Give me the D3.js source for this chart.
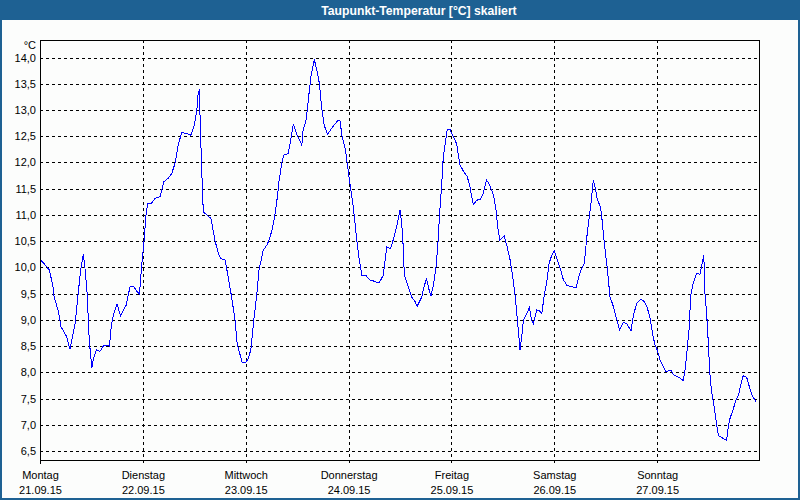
<!DOCTYPE html>
<html><head><meta charset="utf-8">
<script src="https://cdn.jsdelivr.net/npm/d3@7/dist/d3.min.js"></script>
<style>body{margin:0;background:#fcfdfc}svg{display:block}</style>
</head><body>
<script>
const chartTitle = "Taupunkt-Temperatur [°C] skaliert";
const unitLabel = "°C";
const dayNames = ["Montag","Dienstag","Mittwoch","Donnerstag","Freitag","Samstag","Sonntag"];
const dayDates = ["21.09.15","22.09.15","23.09.15","24.09.15","25.09.15","26.09.15","27.09.15"];
const yTicks = [6.5,7,7.5,8,8.5,9,9.5,10,10.5,11,11.5,12,12.5,13,13.5,14];
const dayTicks = [0,24,48,72,96,120,144];
// hours since Monday 21.09.15 00:00
const hours = [0.2,2.2,3.1,3.3,4.3,4.9,6.2,7.0,8.2,8.9,9.5,10.1,10.5,11.0,11.5,12.1,12.4,13.2,14.0,14.9,15.4,16.2,16.7,17.3,18.0,18.8,20.1,21.0,21.9,22.6,23.2,
23.7,24.3,24.7,25.1,25.9,26.8,28.0,28.9,29.9,30.7,31.5,32.3,33.1,34.2,35.2,36.0,36.6,36.9,37.2,37.3,37.7,38.1,38.9,39.9,40.8,41.6,42.2,43.2,43.9,44.7,45.5,46.0,46.7,47.2,48.0,48.6,49.2,49.8,50.6,51.1,
52.1,53.0,53.7,54.3,54.8,55.4,55.8,56.4,56.9,57.9,58.5,59.1,60.0,61.1,61.4,62.1,62.6,63.2,63.6,64.0,64.6,65.2,65.7,66.3,67.1,67.8,68.6,69.4,70.0,70.5,71.2,71.7,72.3,73.0,73.5,74.0,74.5,75.1,76.1,77.0,78.2,79.1,80.1,80.9,81.8,82.4,83.2,84.0,84.4,84.8,85.0,85.9,86.7,87.5,88.0,89.1,89.6,90.2,90.6,91.2,91.8,92.4,92.8,93.3,93.7,94.1,94.5,95.0,95.7,96.1,96.6,97.2,98.0,98.9,99.7,100.3,101.1,101.9,102.8,103.4,104.2,104.8,105.8,106.4,106.9,107.3,108.3,109.0,109.7,110.3,110.8,111.4,112.0,112.4,112.8,113.6,114.2,114.7,115.1,115.9,116.5,117.1,117.6,118.2,118.8,119.4,120.0,120.7,121.5,122.1,122.9,124.1,125.1,125.6,126.2,127.0,127.6,128.0,128.5,129.1,129.5,130.0,130.7,131.0,131.6,132.4,133.0,133.8,134.6,135.2,136.1,136.9,137.9,138.4,139.2,140.2,141.0,141.6,142.3,143.0,143.5,144.0,144.7,145.4,146.1,146.6,147.2,147.8,148.6,149.3,150.1,150.5,151.0,151.5,151.8,152.3,152.8,153.2,154.0,154.4,154.9,155.1,155.6,155.9,156.3,156.7,157.3,157.9,158.3,159.0,159.8,160.2,160.6,161.0,161.8,162.4,163.0,163.5,164.1,164.9,165.5,166.1,166.6,167.1];
const values = [10.14,9.95,9.6,9.44,9.16,8.87,8.68,8.44,8.93,9.5,9.95,10.25,9.98,9.5,8.6,8.08,8.24,8.43,8.4,8.52,8.52,8.5,8.93,9.14,9.3,9.07,9.28,9.63,9.63,9.54,9.49,
10.01,10.52,10.97,11.22,11.21,11.31,11.35,11.63,11.7,11.78,11.98,12.36,12.57,12.55,12.52,12.71,13.0,13.31,13.39,13.0,11.92,11.06,11.0,10.93,10.52,10.27,10.17,10.14,9.82,9.44,9.0,8.55,8.33,8.18,8.18,8.27,8.43,8.93,9.5,9.95,
10.33,10.43,10.58,10.77,11.0,11.35,11.66,11.98,12.14,12.17,12.43,12.73,12.52,12.33,12.62,12.81,13.19,13.63,13.79,13.96,13.76,13.5,13.06,12.71,12.54,12.62,12.71,12.79,12.79,12.49,12.27,11.98,11.6,11.22,10.84,10.46,10.14,9.85,9.84,9.76,9.73,9.7,9.85,10.39,10.36,10.52,10.77,11.09,10.84,10.33,9.85,9.63,9.44,9.35,9.26,9.44,9.63,9.79,9.63,9.45,9.66,10.01,10.39,11.09,11.54,12.11,12.33,12.62,12.62,12.55,12.46,12.36,11.95,11.82,11.73,11.54,11.19,11.28,11.3,11.41,11.66,11.59,11.38,11.09,10.71,10.52,10.6,10.39,10.14,9.82,9.5,9.0,8.43,8.68,9.0,9.12,9.24,9.0,8.92,9.19,9.17,9.12,9.44,9.7,10.08,10.23,10.31,10.14,9.95,9.77,9.66,9.63,9.61,9.79,9.95,10.08,10.58,10.87,11.16,11.66,11.54,11.31,11.16,11.03,10.52,9.95,9.44,9.25,9.0,8.81,8.95,8.93,8.79,9.06,9.31,9.39,9.35,9.25,9.06,8.71,8.52,8.43,8.23,8.11,8.01,8.03,8.04,7.95,7.92,7.89,7.84,8.04,8.43,8.87,9.44,9.66,9.79,9.89,9.87,10.04,10.23,9.56,9.06,8.62,7.98,7.63,7.35,7.0,6.79,6.76,6.72,6.7,6.97,7.12,7.31,7.47,7.57,7.76,7.94,7.9,7.73,7.57,7.5,7.44];

const W = 800, H = 500;
const font = "'Liberation Sans', Arial, sans-serif";
const svg = d3.select("body").append("svg").attr("width", W).attr("height", H)
  .style("font-family", font);

// background + frame + title bar
svg.append("rect").attr("x",0).attr("y",0).attr("width",W).attr("height",H).attr("fill","#fcfdfc");
svg.append("rect").attr("x",0).attr("y",0).attr("width",W).attr("height",20).attr("fill","#1e6193");
svg.append("rect").attr("x",1).attr("y",1).attr("width",W-2).attr("height",H-2)
  .attr("fill","none").attr("stroke","#1e6193").attr("stroke-width",2);
svg.append("text").attr("x",419).attr("y",14.5).attr("text-anchor","middle")
  .attr("fill","#ffffff").attr("font-weight","bold").attr("font-size","12.2px").text(chartTitle);

const L = 40, R = 760, T = 40, B = 460;
const x = d3.scaleLinear().domain([0,168]).range([L,R]);
const y = d3.scaleLinear().domain([6.5,14]).range([451,57.5]);
const snap = v => Math.round(v) + 0.5;

// horizontal grid
const gGrid = svg.append("g").attr("shape-rendering","crispEdges");
gGrid.selectAll("line.h").data(yTicks).join("line").attr("class","h")
  .attr("x1",L).attr("x2",R).attr("y1",d=>snap(y(d))).attr("y2",d=>snap(y(d)))
  .attr("stroke","#000").attr("stroke-dasharray","3,3");
// vertical grid (days)
gGrid.selectAll("line.v").data(dayTicks.slice(1)).join("line").attr("class","v")
  .attr("x1",d=>snap(x(d))).attr("x2",d=>snap(x(d))).attr("y1",T).attr("y2",B+4)
  .attr("stroke","#000").attr("stroke-dasharray","3,3");

// y axis labels
const yAxis = d3.axisLeft(y).tickValues(yTicks).tickSize(0).tickPadding(4)
  .tickFormat(d => d3.format(".1f")(d).replace(".", ","));
const gy = svg.append("g").attr("transform",`translate(${L},0)`).call(yAxis);
gy.select(".domain").remove();
gy.selectAll("text").attr("font-size","11px").attr("font-family",font).attr("fill","#000");
svg.append("text").attr("x",36).attr("y",49).attr("text-anchor","end")
  .attr("font-size","11px").attr("fill","#000").text(unitLabel);

// x axis labels
const xAxis = d3.axisBottom(x).tickValues(dayTicks).tickSize(0).tickFormat("");
const gx = svg.append("g").attr("transform",`translate(0,${B})`).call(xAxis);
gx.select(".domain").remove();
gx.selectAll(".tick").each(function(d,i){
  const t = d3.select(this);
  t.append("text").attr("y",19).attr("text-anchor","middle").attr("fill","#000")
    .attr("font-size","11px").attr("font-family",font).text(dayNames[i]);
  t.append("text").attr("y",34).attr("text-anchor","middle").attr("fill","#000")
    .attr("font-size","11px").attr("font-family",font).text(dayDates[i]);
});

// plot frame
svg.append("rect").attr("x",L+0.5).attr("y",T+0.5).attr("width",R-L-1).attr("height",B-T)
  .attr("fill","none").attr("stroke","#000").attr("shape-rendering","crispEdges");
svg.append("line").attr("x1",L+0.5).attr("x2",L+0.5).attr("y1",B).attr("y2",B+4)
  .attr("stroke","#000").attr("shape-rendering","crispEdges");

// data line
const pts = hours.map((h,i)=>[h, values[i]]);
svg.append("path").datum(pts)
  .attr("d", d3.line().x(d=>x(d[0])).y(d=>y(d[1])))
  .attr("fill","none").attr("stroke","#0000ff").attr("stroke-width",1)
  .attr("shape-rendering","crispEdges");
</script>
</body></html>
